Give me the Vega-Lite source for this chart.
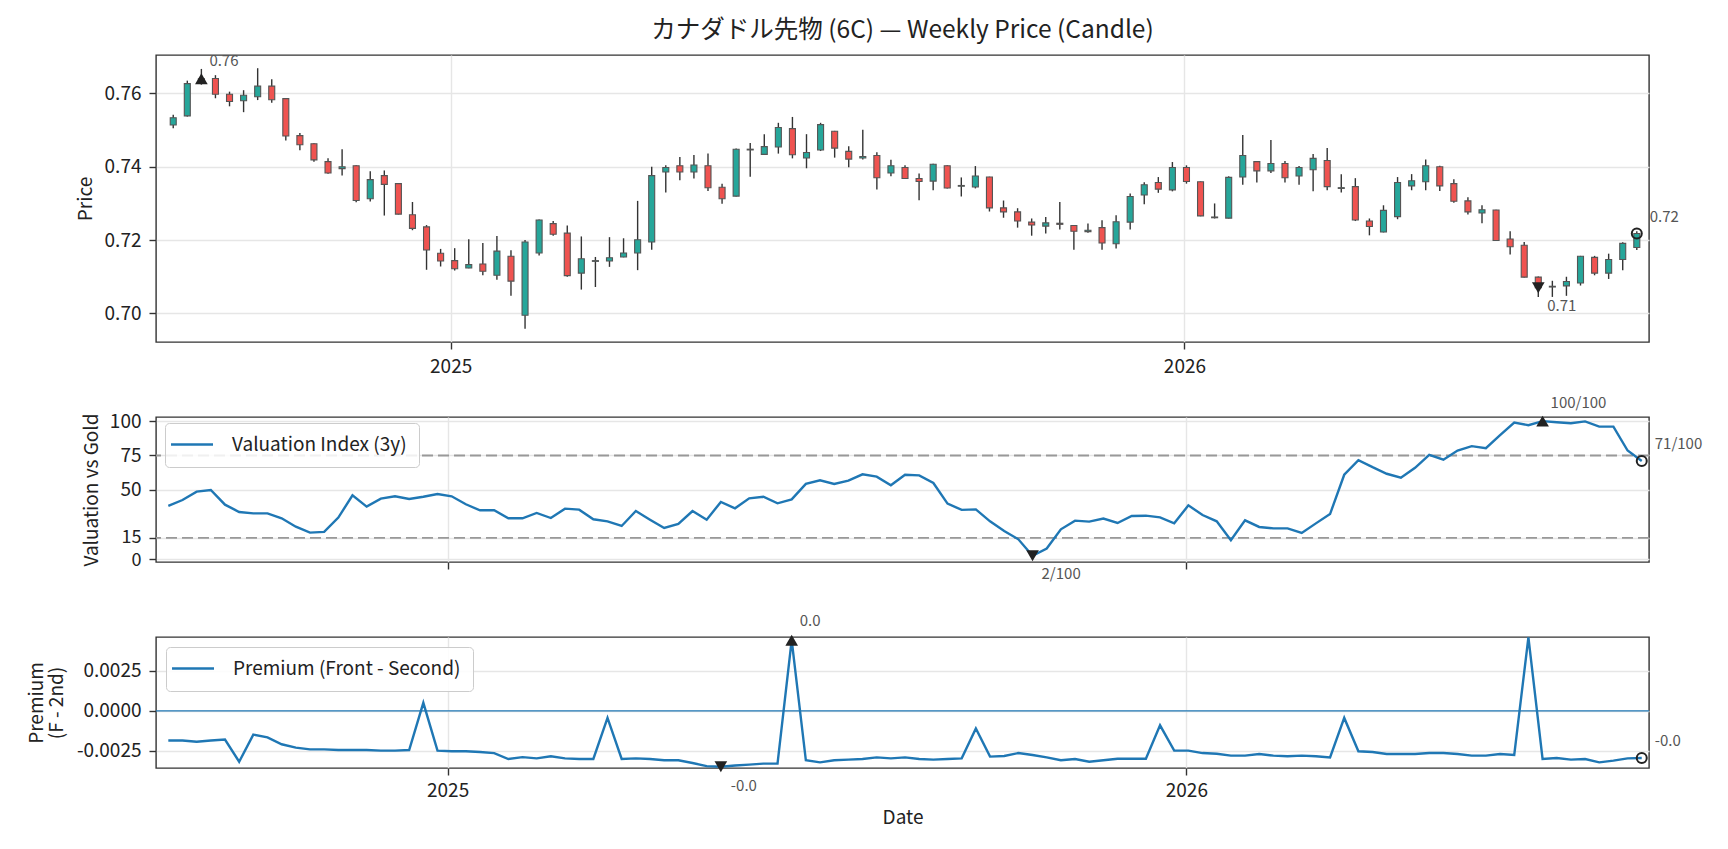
{
  "$schema": "https://vega.github.io/schema/vega-lite/v6.json",
  "background": "white",
  "padding": {"left": 26, "top": 17, "right": 10, "bottom": 10},
  "config": {
    "font": "Noto Sans CJK JP",
    "view": {"stroke": "#333", "strokeWidth": 1.4},
    "axis": {
      "domain": false, "grid": true, "gridColor": "#e6e6e6", "gridWidth": 1.4,
      "tickColor": "#333", "tickSize": 7, "tickWidth": 1.4,
      "labelFontSize": 19, "labelColor": "#222", "labelPadding": 6, "labelOverlap": false,
      "titleFontSize": 19, "titleFontWeight": "normal", "titleColor": "#222"
    },
    "legend": {
      "orient": "none", "symbolType": "M-3.44,0H5.89", "symbolSize": 81,
      "symbolStrokeWidth": 2.4, "labelFontSize": 19, "labelColor": "#222", "labelOffset": 36, "labelLimit": 0,
      "fillColor": "rgba(255,255,255,0.85)", "strokeColor": "#cccccc", "cornerRadius": 4, "padding": 12
    }
  },
  "datasets": {
    "weekly": [
      {"date": "2024-08-16", "open": 0.7514, "high": 0.7542, "low": 0.7505, "close": 0.7534, "valuation": 38.3, "premium": -0.00185},
      {"date": "2024-08-23", "open": 0.7539, "high": 0.7635, "low": 0.7537, "close": 0.7627, "valuation": 42.6, "premium": -0.00185},
      {"date": "2024-08-30", "open": 0.7628, "high": 0.7667, "low": 0.7624, "close": 0.7640, "valuation": 48.7, "premium": -0.00192},
      {"date": "2024-09-06", "open": 0.7641, "high": 0.7650, "low": 0.7587, "close": 0.7598, "valuation": 49.9, "premium": -0.00185},
      {"date": "2024-09-13", "open": 0.7598, "high": 0.7605, "low": 0.7565, "close": 0.7578, "valuation": 39.2, "premium": -0.00179},
      {"date": "2024-09-20", "open": 0.7580, "high": 0.7609, "low": 0.7549, "close": 0.7595, "valuation": 33.9, "premium": -0.00317},
      {"date": "2024-09-27", "open": 0.7591, "high": 0.7669, "low": 0.7582, "close": 0.7620, "valuation": 32.9, "premium": -0.00148},
      {"date": "2024-10-04", "open": 0.7620, "high": 0.7639, "low": 0.7575, "close": 0.7583, "valuation": 32.9, "premium": -0.00165},
      {"date": "2024-10-11", "open": 0.7586, "high": 0.7587, "low": 0.7472, "close": 0.7484, "valuation": 29.3, "premium": -0.00208},
      {"date": "2024-10-18", "open": 0.7485, "high": 0.7492, "low": 0.7445, "close": 0.7460, "valuation": 23.2, "premium": -0.00229},
      {"date": "2024-10-25", "open": 0.7463, "high": 0.7464, "low": 0.7414, "close": 0.7419, "valuation": 18.9, "premium": -0.00240},
      {"date": "2024-11-01", "open": 0.7414, "high": 0.7423, "low": 0.7381, "close": 0.7383, "valuation": 19.4, "premium": -0.00240},
      {"date": "2024-11-08", "open": 0.7395, "high": 0.7448, "low": 0.7376, "close": 0.7400, "valuation": 29.8, "premium": -0.00244},
      {"date": "2024-11-15", "open": 0.7403, "high": 0.7404, "low": 0.7303, "close": 0.7308, "valuation": 46.0, "premium": -0.00244},
      {"date": "2024-11-22", "open": 0.7313, "high": 0.7388, "low": 0.7305, "close": 0.7365, "valuation": 37.8, "premium": -0.00244},
      {"date": "2024-11-29", "open": 0.7376, "high": 0.7390, "low": 0.7267, "close": 0.7352, "valuation": 43.6, "premium": -0.00248},
      {"date": "2024-12-06", "open": 0.7354, "high": 0.7355, "low": 0.7270, "close": 0.7271, "valuation": 45.3, "premium": -0.00248},
      {"date": "2024-12-13", "open": 0.7269, "high": 0.7304, "low": 0.7227, "close": 0.7232, "valuation": 43.4, "premium": -0.00244},
      {"date": "2024-12-20", "open": 0.7236, "high": 0.7241, "low": 0.7119, "close": 0.7173, "valuation": 45.0, "premium": 0.00050},
      {"date": "2024-12-27", "open": 0.7164, "high": 0.7176, "low": 0.7128, "close": 0.7143, "valuation": 47.0, "premium": -0.00248},
      {"date": "2025-01-03", "open": 0.7144, "high": 0.7178, "low": 0.7117, "close": 0.7122, "valuation": 45.3, "premium": -0.00252},
      {"date": "2025-01-10", "open": 0.7124, "high": 0.7202, "low": 0.7123, "close": 0.7133, "valuation": 39.5, "premium": -0.00252},
      {"date": "2025-01-17", "open": 0.7135, "high": 0.7192, "low": 0.7104, "close": 0.7115, "valuation": 35.1, "premium": -0.00256},
      {"date": "2025-01-24", "open": 0.7104, "high": 0.7211, "low": 0.7092, "close": 0.7170, "valuation": 35.1, "premium": -0.00263},
      {"date": "2025-01-31", "open": 0.7156, "high": 0.7172, "low": 0.7048, "close": 0.7088, "valuation": 29.3, "premium": -0.00300},
      {"date": "2025-02-07", "open": 0.6995, "high": 0.7200, "low": 0.6958, "close": 0.7195, "valuation": 29.3, "premium": -0.00288},
      {"date": "2025-02-14", "open": 0.7165, "high": 0.7256, "low": 0.7158, "close": 0.7255, "valuation": 33.2, "premium": -0.00296},
      {"date": "2025-02-21", "open": 0.7245, "high": 0.7252, "low": 0.7212, "close": 0.7216, "valuation": 29.5, "premium": -0.00283},
      {"date": "2025-02-28", "open": 0.7219, "high": 0.7240, "low": 0.7100, "close": 0.7103, "valuation": 36.3, "premium": -0.00296},
      {"date": "2025-03-07", "open": 0.7110, "high": 0.7210, "low": 0.7065, "close": 0.7149, "valuation": 35.6, "premium": -0.00300},
      {"date": "2025-03-14", "open": 0.7142, "high": 0.7154, "low": 0.7072, "close": 0.7144, "valuation": 28.6, "premium": -0.00300},
      {"date": "2025-03-21", "open": 0.7143, "high": 0.7208, "low": 0.7127, "close": 0.7152, "valuation": 27.1, "premium": -0.00044},
      {"date": "2025-03-28", "open": 0.7154, "high": 0.7205, "low": 0.7153, "close": 0.7165, "valuation": 23.7, "premium": -0.00300},
      {"date": "2025-04-04", "open": 0.7165, "high": 0.7307, "low": 0.7118, "close": 0.7201, "valuation": 34.6, "premium": -0.00296},
      {"date": "2025-04-11", "open": 0.7195, "high": 0.7400, "low": 0.7174, "close": 0.7376, "valuation": 28.3, "premium": -0.00300},
      {"date": "2025-04-18", "open": 0.7386, "high": 0.7404, "low": 0.7330, "close": 0.7398, "valuation": 22.3, "premium": -0.00308},
      {"date": "2025-04-25", "open": 0.7403, "high": 0.7427, "low": 0.7363, "close": 0.7386, "valuation": 25.2, "premium": -0.00308},
      {"date": "2025-05-02", "open": 0.7386, "high": 0.7432, "low": 0.7368, "close": 0.7405, "valuation": 34.6, "premium": -0.00325},
      {"date": "2025-05-09", "open": 0.7403, "high": 0.7436, "low": 0.7334, "close": 0.7343, "valuation": 28.3, "premium": -0.00344},
      {"date": "2025-05-16", "open": 0.7344, "high": 0.7354, "low": 0.7299, "close": 0.7313, "valuation": 41.2, "premium": -0.00348},
      {"date": "2025-05-23", "open": 0.7320, "high": 0.7450, "low": 0.7319, "close": 0.7448, "valuation": 36.6, "premium": -0.00340},
      {"date": "2025-05-30", "open": 0.7446, "high": 0.7465, "low": 0.7373, "close": 0.7448, "valuation": 43.8, "premium": -0.00335},
      {"date": "2025-06-06", "open": 0.7434, "high": 0.7489, "low": 0.7433, "close": 0.7455, "valuation": 45.0, "premium": -0.00329},
      {"date": "2025-06-13", "open": 0.7454, "high": 0.7520, "low": 0.7436, "close": 0.7507, "valuation": 40.2, "premium": -0.00329},
      {"date": "2025-06-20", "open": 0.7504, "high": 0.7536, "low": 0.7423, "close": 0.7433, "valuation": 43.1, "premium": 0.00440},
      {"date": "2025-06-27", "open": 0.7424, "high": 0.7489, "low": 0.7396, "close": 0.7439, "valuation": 54.3, "premium": -0.00308},
      {"date": "2025-07-04", "open": 0.7446, "high": 0.7520, "low": 0.7443, "close": 0.7515, "valuation": 56.9, "premium": -0.00321},
      {"date": "2025-07-11", "open": 0.7497, "high": 0.7498, "low": 0.7425, "close": 0.7451, "valuation": 54.3, "premium": -0.00308},
      {"date": "2025-07-18", "open": 0.7442, "high": 0.7456, "low": 0.7399, "close": 0.7421, "valuation": 56.7, "premium": -0.00304},
      {"date": "2025-07-25", "open": 0.7424, "high": 0.7501, "low": 0.7420, "close": 0.7428, "valuation": 61.3, "premium": -0.00300},
      {"date": "2025-08-01", "open": 0.7431, "high": 0.7440, "low": 0.7338, "close": 0.7370, "valuation": 59.6, "premium": -0.00290},
      {"date": "2025-08-08", "open": 0.7383, "high": 0.7419, "low": 0.7374, "close": 0.7403, "valuation": 53.3, "premium": -0.00296},
      {"date": "2025-08-15", "open": 0.7398, "high": 0.7404, "low": 0.7367, "close": 0.7368, "valuation": 61.0, "premium": -0.00290},
      {"date": "2025-08-22", "open": 0.7368, "high": 0.7382, "low": 0.7309, "close": 0.7360, "valuation": 60.5, "premium": -0.00300},
      {"date": "2025-08-29", "open": 0.7361, "high": 0.7408, "low": 0.7336, "close": 0.7407, "valuation": 55.0, "premium": -0.00304},
      {"date": "2025-09-05", "open": 0.7403, "high": 0.7404, "low": 0.7341, "close": 0.7342, "valuation": 40.0, "premium": -0.00300},
      {"date": "2025-09-12", "open": 0.7347, "high": 0.7371, "low": 0.7319, "close": 0.7349, "valuation": 35.4, "premium": -0.00296},
      {"date": "2025-09-19", "open": 0.7345, "high": 0.7402, "low": 0.7341, "close": 0.7375, "valuation": 35.8, "premium": -0.00110},
      {"date": "2025-09-26", "open": 0.7372, "high": 0.7373, "low": 0.7278, "close": 0.7288, "valuation": 27.1, "premium": -0.00285},
      {"date": "2025-10-03", "open": 0.7288, "high": 0.7308, "low": 0.7261, "close": 0.7277, "valuation": 20.1, "premium": -0.00281},
      {"date": "2025-10-10", "open": 0.7277, "high": 0.7287, "low": 0.7234, "close": 0.7252, "valuation": 14.0, "premium": -0.00263},
      {"date": "2025-10-17", "open": 0.7249, "high": 0.7259, "low": 0.7212, "close": 0.7241, "valuation": 2.0, "premium": -0.00275},
      {"date": "2025-10-24", "open": 0.7238, "high": 0.7263, "low": 0.7218, "close": 0.7247, "valuation": 7.3, "premium": -0.00290},
      {"date": "2025-10-31", "open": 0.7246, "high": 0.7304, "low": 0.7229, "close": 0.7243, "valuation": 21.3, "premium": -0.00308},
      {"date": "2025-11-07", "open": 0.7240, "high": 0.7241, "low": 0.7174, "close": 0.7224, "valuation": 27.6, "premium": -0.00300},
      {"date": "2025-11-14", "open": 0.7223, "high": 0.7245, "low": 0.7220, "close": 0.7227, "valuation": 26.9, "premium": -0.00317},
      {"date": "2025-11-21", "open": 0.7234, "high": 0.7254, "low": 0.7174, "close": 0.7192, "valuation": 29.1, "premium": -0.00308},
      {"date": "2025-11-28", "open": 0.7190, "high": 0.7268, "low": 0.7177, "close": 0.7250, "valuation": 25.9, "premium": -0.00298},
      {"date": "2025-12-05", "open": 0.7249, "high": 0.7327, "low": 0.7229, "close": 0.7319, "valuation": 31.0, "premium": -0.00298},
      {"date": "2025-12-12", "open": 0.7323, "high": 0.7358, "low": 0.7298, "close": 0.7351, "valuation": 31.2, "premium": -0.00298},
      {"date": "2025-12-19", "open": 0.7357, "high": 0.7372, "low": 0.7329, "close": 0.7339, "valuation": 30.0, "premium": -0.00090},
      {"date": "2025-12-26", "open": 0.7337, "high": 0.7413, "low": 0.7333, "close": 0.7398, "valuation": 25.7, "premium": -0.00248},
      {"date": "2026-01-02", "open": 0.7398, "high": 0.7404, "low": 0.7354, "close": 0.7360, "valuation": 38.7, "premium": -0.00248},
      {"date": "2026-01-09", "open": 0.7359, "high": 0.7360, "low": 0.7265, "close": 0.7266, "valuation": 31.7, "premium": -0.00263},
      {"date": "2026-01-16", "open": 0.7261, "high": 0.7300, "low": 0.7259, "close": 0.7263, "valuation": 27.1, "premium": -0.00267},
      {"date": "2026-01-23", "open": 0.7260, "high": 0.7374, "low": 0.7259, "close": 0.7371, "valuation": 13.3, "premium": -0.00279},
      {"date": "2026-01-30", "open": 0.7372, "high": 0.7487, "low": 0.7351, "close": 0.7431, "valuation": 27.8, "premium": -0.00279},
      {"date": "2026-02-06", "open": 0.7414, "high": 0.7416, "low": 0.7357, "close": 0.7389, "valuation": 23.0, "premium": -0.00269},
      {"date": "2026-02-13", "open": 0.7389, "high": 0.7473, "low": 0.7383, "close": 0.7409, "valuation": 22.0, "premium": -0.00279},
      {"date": "2026-02-20", "open": 0.7409, "high": 0.7416, "low": 0.7357, "close": 0.7370, "valuation": 22.0, "premium": -0.00283},
      {"date": "2026-02-27", "open": 0.7375, "high": 0.7402, "low": 0.7351, "close": 0.7398, "valuation": 18.6, "premium": -0.00279},
      {"date": "2026-03-06", "open": 0.7392, "high": 0.7435, "low": 0.7333, "close": 0.7423, "valuation": 25.6, "premium": -0.00283},
      {"date": "2026-03-13", "open": 0.7417, "high": 0.7451, "low": 0.7336, "close": 0.7346, "valuation": 32.4, "premium": -0.00290},
      {"date": "2026-03-20", "open": 0.7341, "high": 0.7380, "low": 0.7330, "close": 0.7343, "valuation": 61.0, "premium": -0.00044},
      {"date": "2026-03-27", "open": 0.7346, "high": 0.7369, "low": 0.7252, "close": 0.7255, "valuation": 71.6, "premium": -0.00252},
      {"date": "2026-04-03", "open": 0.7252, "high": 0.7259, "low": 0.7213, "close": 0.7237, "valuation": 66.5, "premium": -0.00256},
      {"date": "2026-04-10", "open": 0.7222, "high": 0.7295, "low": 0.7221, "close": 0.7281, "valuation": 61.7, "premium": -0.00269},
      {"date": "2026-04-17", "open": 0.7264, "high": 0.7372, "low": 0.7257, "close": 0.7357, "valuation": 58.8, "premium": -0.00269},
      {"date": "2026-04-24", "open": 0.7348, "high": 0.7380, "low": 0.7336, "close": 0.7362, "valuation": 66.0, "premium": -0.00269},
      {"date": "2026-05-01", "open": 0.7359, "high": 0.7420, "low": 0.7336, "close": 0.7403, "valuation": 75.5, "premium": -0.00263},
      {"date": "2026-05-08", "open": 0.7400, "high": 0.7403, "low": 0.7334, "close": 0.7348, "valuation": 71.9, "premium": -0.00263},
      {"date": "2026-05-15", "open": 0.7354, "high": 0.7366, "low": 0.7302, "close": 0.7306, "valuation": 78.6, "premium": -0.00269},
      {"date": "2026-05-22", "open": 0.7307, "high": 0.7317, "low": 0.7270, "close": 0.7277, "valuation": 81.8, "premium": -0.00279},
      {"date": "2026-05-29", "open": 0.7274, "high": 0.7295, "low": 0.7246, "close": 0.7283, "valuation": 80.3, "premium": -0.00279},
      {"date": "2026-06-05", "open": 0.7282, "high": 0.7283, "low": 0.7198, "close": 0.7199, "valuation": 89.8, "premium": -0.00269},
      {"date": "2026-06-12", "open": 0.7203, "high": 0.7224, "low": 0.7161, "close": 0.7182, "valuation": 99.0, "premium": -0.00275},
      {"date": "2026-06-19", "open": 0.7186, "high": 0.7195, "low": 0.7098, "close": 0.7099, "valuation": 97.0, "premium": 0.00458},
      {"date": "2026-06-26", "open": 0.7099, "high": 0.7101, "low": 0.7045, "close": 0.7070, "valuation": 100.0, "premium": -0.00300},
      {"date": "2026-07-03", "open": 0.7072, "high": 0.7089, "low": 0.7045, "close": 0.7074, "valuation": 99.2, "premium": -0.00294},
      {"date": "2026-07-10", "open": 0.7075, "high": 0.7100, "low": 0.7048, "close": 0.7087, "valuation": 98.5, "premium": -0.00304},
      {"date": "2026-07-17", "open": 0.7083, "high": 0.7157, "low": 0.7076, "close": 0.7156, "valuation": 99.8, "premium": -0.00300},
      {"date": "2026-07-24", "open": 0.7153, "high": 0.7157, "low": 0.7104, "close": 0.7110, "valuation": 96.0, "premium": -0.00321},
      {"date": "2026-07-31", "open": 0.7110, "high": 0.7163, "low": 0.7094, "close": 0.7147, "valuation": 96.0, "premium": -0.00310},
      {"date": "2026-08-07", "open": 0.7147, "high": 0.7194, "low": 0.7118, "close": 0.7191, "valuation": 78.6, "premium": -0.00296},
      {"date": "2026-08-14", "open": 0.7180, "high": 0.7224, "low": 0.7173, "close": 0.7218, "valuation": 71.0, "premium": -0.00294}
    ],
    "notes": [
      {"panel": "price", "date": "2024-08-30", "value": 0.7640, "label": "0.76", "kind": "max"},
      {"panel": "price", "date": "2026-06-26", "value": 0.7070, "label": "0.71", "kind": "min"},
      {"panel": "price", "date": "2026-08-14", "value": 0.7218, "label": "0.72", "kind": "last"},
      {"panel": "val", "date": "2026-06-26", "value": 100, "label": "100/100", "kind": "max"},
      {"panel": "val", "date": "2025-10-17", "value": 2, "label": "2/100", "kind": "min"},
      {"panel": "val", "date": "2026-08-14", "value": 71, "label": "71/100", "kind": "last"},
      {"panel": "prem", "date": "2025-06-20", "value": 0.0044, "label": "0.0", "kind": "max"},
      {"panel": "prem", "date": "2025-05-16", "value": -0.00348, "label": "-0.0", "kind": "min"},
      {"panel": "prem", "date": "2026-08-14", "value": -0.00294, "label": "-0.0", "kind": "last"}
    ]
  },
  "bounds": "flush",
  "spacing": 75,
  "resolve": {"scale": {"x": "independent", "y": "independent", "color": "independent"}, "legend": {"color": "independent"}},
  "vconcat": [
    {
      "width": 1493,
      "height": 287,
      "title": {"text": "カナダドル先物 (6C) — Weekly Price (Candle)", "fontSize": 24.5, "fontWeight": "normal", "color": "#222", "frame": "group", "anchor": "middle", "offset": 10},
      "data": {"name": "weekly"},
      "layer": [
        {
          "mark": {"type": "rule", "color": "#333", "strokeWidth": 1.4},
          "encoding": {
            "x": {"field": "date", "type": "temporal",
              "scale": {"domain": [{"year": 2024, "month": 8, "date": 9, "hours": 22}, {"year": 2026, "month": 8, "date": 17, "hours": 14}]},
              "axis": {"values": [{"year": 2025, "month": 1, "date": 1}, {"year": 2026, "month": 1, "date": 1}], "format": "%Y", "title": null, "labelFlush": false, "labelPadding": 8}},
            "y": {"field": "low", "type": "quantitative", "title": "Price",
              "scale": {"domain": [0.6922, 0.7705], "zero": false, "nice": false},
              "axis": {"values": [0.70, 0.72, 0.74, 0.76], "tickCount": 10, "format": ".2f", "labelPadding": 8, "titlePadding": 9}},
            "y2": {"field": "high"}
          }
        },
        {
          "mark": {"type": "bar", "size": 6, "stroke": "#555", "strokeWidth": 1.1},
          "encoding": {
            "x": {"field": "date", "type": "temporal"},
            "y": {"field": "open", "type": "quantitative", "title": "Price"},
            "y2": {"field": "close"},
            "fill": {"condition": {"test": "datum.close >= datum.open", "value": "#26a69a"}, "value": "#ef5350"}
          }
        },
        {
          "data": {"name": "notes"},
          "transform": [{"filter": "datum.panel == 'price' && datum.kind != 'last'"}],
          "mark": {"type": "point", "filled": true, "size": 160, "color": "#222", "opacity": 1},
          "encoding": {
            "x": {"field": "date", "type": "temporal"},
            "y": {"field": "value", "type": "quantitative", "title": "Price"},
            "shape": {"condition": {"test": "datum.kind == 'max'", "value": "triangle-up"}, "value": "triangle-down"}
          }
        },
        {
          "data": {"name": "notes"},
          "transform": [{"filter": "datum.panel == 'price' && datum.kind == 'last'"}],
          "mark": {"type": "point", "filled": false, "shape": "circle", "size": 100, "stroke": "#222", "strokeWidth": 2, "opacity": 1},
          "encoding": {
            "x": {"field": "date", "type": "temporal"},
            "y": {"field": "value", "type": "quantitative", "title": "Price"}
          }
        },
        {
          "data": {"name": "notes"},
          "transform": [{"filter": "datum.panel == 'price' && datum.kind == 'max'"}],
          "mark": {"type": "text", "align": "left", "baseline": "middle", "dx": 8, "dy": -18, "fontSize": 15, "color": "#555"},
          "encoding": {"x": {"field": "date", "type": "temporal"}, "y": {"field": "value", "type": "quantitative", "title": "Price"}, "text": {"field": "label"}}
        },
        {
          "data": {"name": "notes"},
          "transform": [{"filter": "datum.panel == 'price' && datum.kind == 'min'"}],
          "mark": {"type": "text", "align": "left", "baseline": "middle", "dx": 9, "dy": 18, "fontSize": 15, "color": "#555"},
          "encoding": {"x": {"field": "date", "type": "temporal"}, "y": {"field": "value", "type": "quantitative", "title": "Price"}, "text": {"field": "label"}}
        },
        {
          "data": {"name": "notes"},
          "transform": [{"filter": "datum.panel == 'price' && datum.kind == 'last'"}],
          "mark": {"type": "text", "align": "left", "baseline": "middle", "dx": 13, "dy": -17, "fontSize": 15, "color": "#555"},
          "encoding": {"x": {"field": "date", "type": "temporal"}, "y": {"field": "value", "type": "quantitative", "title": "Price"}, "text": {"field": "label"}}
        }
      ]
    },
    {
      "width": 1493,
      "height": 145,
      "data": {"name": "weekly"},
      "layer": [
        {
          "data": {"values": [{"level": 75}, {"level": 15}]},
          "mark": {"type": "rule", "color": "#999", "strokeDash": [11, 5], "strokeWidth": 1.8},
          "encoding": {"y": {"field": "level", "type": "quantitative", "title": "Valuation vs Gold",
            "scale": {"domain": [-2.5, 103], "zero": false, "nice": false},
            "axis": {"values": [0, 15, 50, 75, 100], "tickCount": 10, "labelPadding": 8, "titlePadding": 8,
              "labelOffset": {"condition": {"test": "datum.value == 0", "value": 2}, "value": 0},
              "labelFontSize": {"condition": {"test": "datum.value == 0 || datum.value == 15", "value": 18}, "value": 19}}}}
        },
        {
          "mark": {"type": "line", "strokeWidth": 2.4},
          "encoding": {
            "x": {"field": "date", "type": "temporal",
              "scale": {"domain": [{"year": 2024, "month": 8, "date": 9, "hours": 22}, {"year": 2026, "month": 8, "date": 17, "hours": 14}]},
              "axis": {"values": [{"year": 2025, "month": 1, "date": 1}, {"year": 2026, "month": 1, "date": 1}], "labels": false, "title": null}},
            "y": {"field": "valuation", "type": "quantitative", "title": "Valuation vs Gold"},
            "color": {"datum": "Valuation Index (3y)", "type": "nominal", "scale": {"range": ["#1f77b4"]}, "legend": {"title": null, "legendX": 9, "legendY": 6}}
          }
        },
        {
          "data": {"name": "notes"},
          "transform": [{"filter": "datum.panel == 'val' && datum.kind != 'last'"}],
          "mark": {"type": "point", "filled": true, "size": 160, "color": "#222", "opacity": 1},
          "encoding": {
            "x": {"field": "date", "type": "temporal"},
            "y": {"field": "value", "type": "quantitative", "title": "Valuation vs Gold"},
            "shape": {"condition": {"test": "datum.kind == 'max'", "value": "triangle-up"}, "value": "triangle-down"}
          }
        },
        {
          "data": {"name": "notes"},
          "transform": [{"filter": "datum.panel == 'val' && datum.kind == 'last'"}],
          "mark": {"type": "point", "filled": false, "shape": "circle", "size": 100, "stroke": "#222", "strokeWidth": 2, "opacity": 1},
          "encoding": {
            "x": {"field": "date", "type": "temporal"},
            "y": {"field": "value", "type": "quantitative", "title": "Valuation vs Gold"}
          }
        },
        {
          "data": {"name": "notes"},
          "transform": [{"filter": "datum.panel == 'val' && datum.kind == 'max'"}],
          "mark": {"type": "text", "align": "left", "baseline": "middle", "dx": 8, "dy": -18, "fontSize": 15, "color": "#555"},
          "encoding": {"x": {"field": "date", "type": "temporal"}, "y": {"field": "value", "type": "quantitative", "title": "Valuation vs Gold"}, "text": {"field": "label"}}
        },
        {
          "data": {"name": "notes"},
          "transform": [{"filter": "datum.panel == 'val' && datum.kind == 'min'"}],
          "mark": {"type": "text", "align": "left", "baseline": "middle", "dx": 9, "dy": 18, "fontSize": 15, "color": "#555"},
          "encoding": {"x": {"field": "date", "type": "temporal"}, "y": {"field": "value", "type": "quantitative", "title": "Valuation vs Gold"}, "text": {"field": "label"}}
        },
        {
          "data": {"name": "notes"},
          "transform": [{"filter": "datum.panel == 'val' && datum.kind == 'last'"}],
          "mark": {"type": "text", "align": "left", "baseline": "middle", "dx": 13, "dy": -17, "fontSize": 15, "color": "#555"},
          "encoding": {"x": {"field": "date", "type": "temporal"}, "y": {"field": "value", "type": "quantitative", "title": "Valuation vs Gold"}, "text": {"field": "label"}}
        }
      ]
    },
    {
      "width": 1493,
      "height": 131,
      "data": {"name": "weekly"},
      "layer": [
        {
          "data": {"values": [{"level": 0}]},
          "mark": {"type": "rule", "color": "#1f77b4", "strokeWidth": 1.4},
          "encoding": {"y": {"field": "level", "type": "quantitative", "title": ["Premium", "(F - 2nd)"],
            "scale": {"domain": [-0.00356, 0.0046], "zero": false, "nice": false},
            "axis": {"values": [-0.0025, 0, 0.0025], "tickCount": 10, "labelExpr": "replace(format(datum.value, '.4f'), '\u2212', '-')", "labelPadding": 8, "titlePadding": 10, "titleLineHeight": 20}}}
        },
        {
          "mark": {"type": "line", "strokeWidth": 2.4},
          "encoding": {
            "x": {"field": "date", "type": "temporal", "title": "Date",
              "scale": {"domain": [{"year": 2024, "month": 8, "date": 9, "hours": 22}, {"year": 2026, "month": 8, "date": 17, "hours": 14}]},
              "axis": {"values": [{"year": 2025, "month": 1, "date": 1}, {"year": 2026, "month": 1, "date": 1}], "format": "%Y", "labelFlush": false, "labelPadding": 6, "titlePadding": 8}},
            "y": {"field": "premium", "type": "quantitative", "title": ["Premium", "(F - 2nd)"]},
            "color": {"datum": "Premium (Front - Second)", "type": "nominal", "scale": {"range": ["#1f77b4"]}, "legend": {"title": null, "legendX": 10, "legendY": 10}}
          }
        },
        {
          "data": {"name": "notes"},
          "transform": [{"filter": "datum.panel == 'prem' && datum.kind != 'last'"}],
          "mark": {"type": "point", "filled": true, "size": 160, "color": "#222", "opacity": 1},
          "encoding": {
            "x": {"field": "date", "type": "temporal", "title": "Date"},
            "y": {"field": "value", "type": "quantitative", "title": ["Premium", "(F - 2nd)"]},
            "shape": {"condition": {"test": "datum.kind == 'max'", "value": "triangle-up"}, "value": "triangle-down"}
          }
        },
        {
          "data": {"name": "notes"},
          "transform": [{"filter": "datum.panel == 'prem' && datum.kind == 'last'"}],
          "mark": {"type": "point", "filled": false, "shape": "circle", "size": 100, "stroke": "#222", "strokeWidth": 2, "opacity": 1},
          "encoding": {
            "x": {"field": "date", "type": "temporal", "title": "Date"},
            "y": {"field": "value", "type": "quantitative", "title": ["Premium", "(F - 2nd)"]}
          }
        },
        {
          "data": {"name": "notes"},
          "transform": [{"filter": "datum.panel == 'prem' && datum.kind == 'max'"}],
          "mark": {"type": "text", "align": "left", "baseline": "middle", "dx": 8, "dy": -19, "fontSize": 15, "color": "#555"},
          "encoding": {"x": {"field": "date", "type": "temporal", "title": "Date"}, "y": {"field": "value", "type": "quantitative", "title": ["Premium", "(F - 2nd)"]}, "text": {"field": "label"}}
        },
        {
          "data": {"name": "notes"},
          "transform": [{"filter": "datum.panel == 'prem' && datum.kind == 'min'"}],
          "mark": {"type": "text", "align": "left", "baseline": "middle", "dx": 10, "dy": 19, "fontSize": 15, "color": "#555"},
          "encoding": {"x": {"field": "date", "type": "temporal", "title": "Date"}, "y": {"field": "value", "type": "quantitative", "title": ["Premium", "(F - 2nd)"]}, "text": {"field": "label"}}
        },
        {
          "data": {"name": "notes"},
          "transform": [{"filter": "datum.panel == 'prem' && datum.kind == 'last'"}],
          "mark": {"type": "text", "align": "left", "baseline": "middle", "dx": 13, "dy": -17, "fontSize": 15, "color": "#555"},
          "encoding": {"x": {"field": "date", "type": "temporal", "title": "Date"}, "y": {"field": "value", "type": "quantitative", "title": ["Premium", "(F - 2nd)"]}, "text": {"field": "label"}}
        }
      ]
    }
  ]
}
